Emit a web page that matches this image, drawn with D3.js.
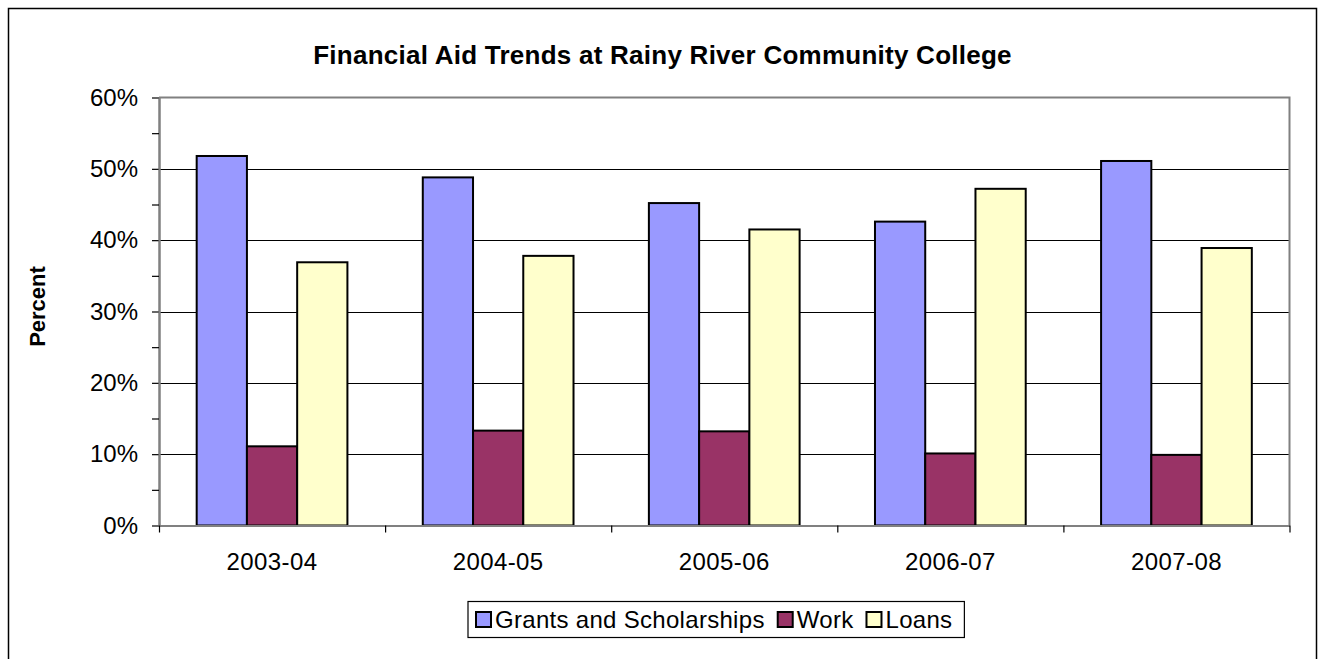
<!DOCTYPE html>
<html>
<head>
<meta charset="utf-8">
<script src="https://cdn.jsdelivr.net/npm/d3@7"></script>
<style>
  html, body { margin: 0; padding: 0; background: #fff; }
  svg { display: block; font-family: "Liberation Sans", Arial, sans-serif; }
</style>
</head>
<body>
<svg id="chart" width="1320" height="659"></svg>
<script>
const categories = ["2003-04", "2004-05", "2005-06", "2006-07", "2007-08"];
const seriesNames = ["Grants and Scholarships", "Work", "Loans"];
const grants = [51.8, 48.8, 45.2, 42.6, 51.1];
const work   = [11.1, 13.3, 13.2, 10.1, 9.9];
const loans  = [36.9, 37.8, 41.5, 47.2, 38.9];
const seriesColors = ["#9999FF", "#993366", "#FFFFCC"];
const yTicks = [0, 10, 20, 30, 40, 50, 60];
const yMinorTicks = [5, 15, 25, 35, 45, 55];
const chartTitle = "Financial Aid Trends at Rainy River Community College";
const yTitle = "Percent";

const seriesValues = [grants, work, loans];
const data = categories.map((c, i) => ({
  cat: c,
  vals: seriesNames.map((s, j) => ({ key: s, idx: j, value: seriesValues[j][i] }))
}));

const svg = d3.select("#chart");
const plot = { left: 159, right: 1289.5, top: 97.5, bottom: 525.5 };

// outer frame
svg.append("rect").attr("x", 8.5).attr("y", 8.5).attr("width", 1308).attr("height", 680)
  .attr("fill", "#fff").attr("stroke", "#000").attr("stroke-width", 1.5);

const y = d3.scaleLinear().domain([0, 60]).range([plot.bottom, plot.top]);
const x0 = d3.scaleBand().domain(categories).range([plot.left, plot.right])
  .paddingInner(1.5 / 4.5).paddingOuter(0.75 / 4.5);
const x1 = d3.scaleBand().domain(seriesNames).range([0, x0.bandwidth()]);
const xb = d3.scaleLinear().domain([0, categories.length]).range([plot.left, plot.right]);

// gridlines
svg.append("g").selectAll("line").data(yTicks.filter(t => t > 0 && t < 60)).join("line")
  .attr("x1", plot.left).attr("x2", plot.right)
  .attr("y1", d => Math.round(y(d)) + 0.5).attr("y2", d => Math.round(y(d)) + 0.5)
  .attr("stroke", "#000").attr("stroke-width", 1);

// plot border (top & right)
svg.append("path")
  .attr("d", `M${plot.left},${plot.top}H${plot.right}V${plot.bottom}`)
  .attr("fill", "none").attr("stroke", "#808080").attr("stroke-width", 2);

// bars
const groups = svg.append("g").selectAll("g").data(data).join("g")
  .attr("transform", d => `translate(${x0(d.cat)},0)`);
groups.selectAll("rect").data(d => d.vals).join("rect")
  .attr("x", d => x1(d.key))
  .attr("y", d => y(d.value))
  .attr("width", x1.bandwidth())
  .attr("height", d => y(0) - y(d.value))
  .attr("fill", d => seriesColors[d.idx])
  .attr("stroke", "#000").attr("stroke-width", 2);

// y axis
const yAxis = svg.append("g").attr("transform", `translate(${plot.left},0)`)
  .call(d3.axisLeft(y).tickValues(yTicks).tickFormat(d => d + "%").tickSize(7).tickPadding(14).tickSizeOuter(0));
const yMinor = svg.append("g").attr("transform", `translate(${plot.left},0)`)
  .call(d3.axisLeft(y).tickValues(yMinorTicks).tickFormat("").tickSize(7).tickSizeOuter(0));
[yAxis, yMinor].forEach(g => {
  g.select(".domain").attr("stroke", "#808080").attr("stroke-width", 2);
  g.selectAll(".tick line").attr("stroke", "#000").attr("stroke-width", 1.2);
});
yAxis.selectAll(".tick text").attr("font-size", 24).attr("fill", "#000")
  .attr("font-family", "'Liberation Sans', Arial, sans-serif");

// x axis
const xTicks = svg.append("g").attr("transform", `translate(0,${plot.bottom})`)
  .call(d3.axisBottom(xb).tickValues(d3.range(categories.length + 1)).tickFormat("").tickSize(7).tickSizeOuter(0));
xTicks.select(".domain").attr("stroke", "#808080").attr("stroke-width", 2);
xTicks.selectAll(".tick line").attr("stroke", "#000").attr("stroke-width", 1.2);
const xLabels = svg.append("g").attr("transform", `translate(0,${plot.bottom})`)
  .call(d3.axisBottom(x0).tickSize(0).tickPadding(27));
xLabels.select(".domain").remove();
xLabels.selectAll(".tick text").attr("font-size", 24).attr("fill", "#000")
  .attr("letter-spacing", 0.4)
  .attr("font-family", "'Liberation Sans', Arial, sans-serif");

// title
svg.append("text").attr("x", 662.5).attr("y", 64).attr("text-anchor", "middle")
  .attr("font-size", 26).attr("font-weight", "bold").attr("letter-spacing", 0.25)
  .text(chartTitle);

// y title
svg.append("text").attr("transform", "translate(45,306.5) rotate(-90)")
  .attr("text-anchor", "middle").attr("font-size", 22).attr("font-weight", "bold")
  .text(yTitle);

// legend
const leg = svg.append("g");
const legBox = { x: 468, y: 601.5, h: 36 };
const legRect = leg.append("rect").attr("y", legBox.y).attr("height", legBox.h)
  .attr("fill", "#fff").attr("stroke", "#000").attr("stroke-width", 1.2);
let cx = legBox.x + 8;
seriesNames.forEach((s, i) => {
  leg.append("rect").attr("x", cx).attr("y", legBox.y + 10.5).attr("width", 15).attr("height", 15)
    .attr("fill", seriesColors[i]).attr("stroke", "#000").attr("stroke-width", 2);
  cx += 19;
  const t = leg.append("text").attr("x", cx).attr("y", legBox.y + 26)
    .attr("font-size", 24).attr("letter-spacing", 0.3).text(s);
  cx += t.node().getComputedTextLength() + 13;
});
legRect.attr("x", legBox.x).attr("width", cx - legBox.x - 1);
</script>
</body>
</html>
